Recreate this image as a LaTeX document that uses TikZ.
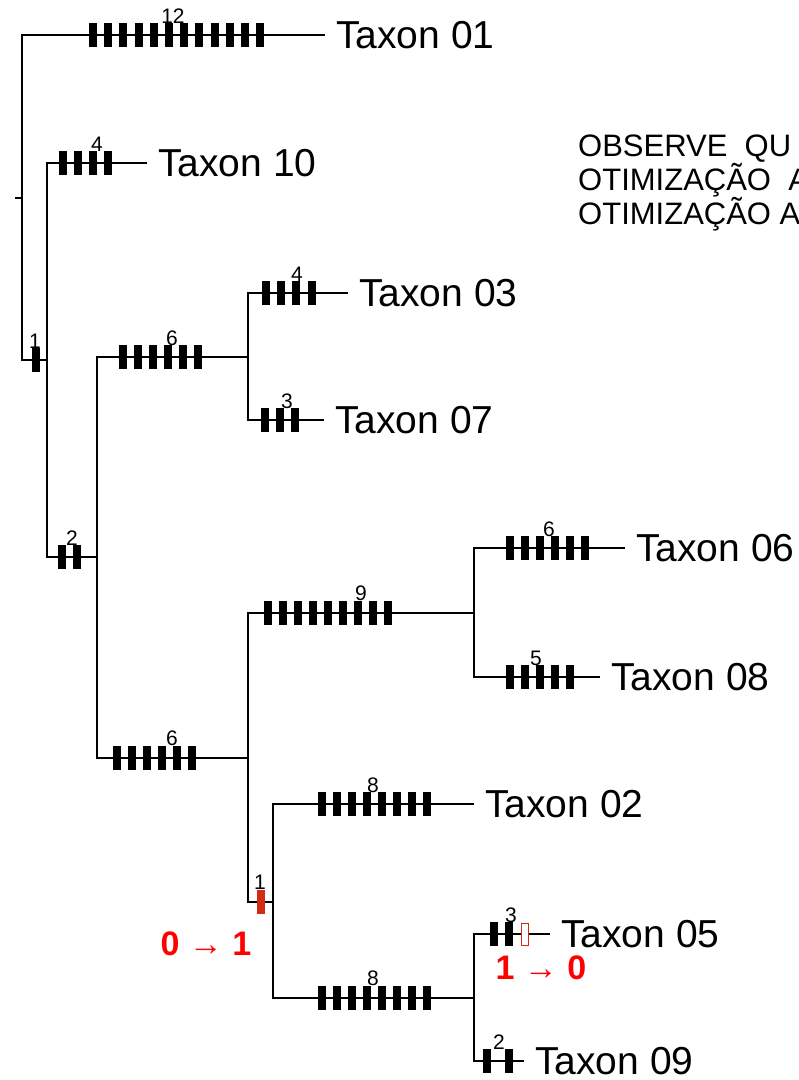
\documentclass[tikz,border=0pt]{standalone}
\usepackage{fontspec}
\setmainfont{Liberation Sans}
\definecolor{markred}{RGB}{210,45,20}
\definecolor{txtred}{RGB}{255,0,0}
\begin{document}
\begin{tikzpicture}[x=1pt,y=-1pt,
  branch/.style={line width=2pt},
  charbar/.style={rectangle, fill=black, minimum width=8pt, minimum height=24pt, inner sep=0pt},
  redbar/.style={charbar, fill=markred},
  hollowbar/.style={rectangle, draw=markred, fill=white, line width=0.8pt, minimum width=6.5pt, minimum height=22pt, inner sep=0pt},
  cnt/.style={font=\fontsize{21}{21}\selectfont, anchor=base, inner sep=0pt},
  taxon/.style={font=\fontsize{39}{39}\selectfont, anchor=west, inner xsep=11pt, inner ysep=0pt, text depth=0pt},
  note/.style={font=\fontsize{31}{31}\selectfont, anchor=base west, inner sep=0pt},
  change/.style={font=\bfseries\fontsize{34}{34}\selectfont, text=txtred, inner sep=0pt}
]
\useasboundingbox (0,0) rectangle (799,1080);

% internal nodes
\coordinate (r)  at (15,197.5);
\coordinate (n1) at (22,197.5);
\coordinate (n2) at (47,360);
\coordinate (n3) at (97,557);
\coordinate (n4) at (248,356.5);
\coordinate (n5) at (248,757.5);
\coordinate (n6) at (474,612.5);
\coordinate (n7) at (273,901.5);
\coordinate (n8) at (474,997.5);

% leaves
\node[taxon] (t01) at (325,35)   {Taxon 01};
\node[taxon] (t10) at (147,163)  {Taxon 10};
\node[taxon] (t03) at (348,293)  {Taxon 03};
\node[taxon] (t07) at (324,420)  {Taxon 07};
\node[taxon] (t06) at (625,548)  {Taxon 06};
\node[taxon] (t08) at (600,677)  {Taxon 08};
\node[taxon] (t02) at (474,804)  {Taxon 02};
\node[taxon] (t05) at (550,934)  {Taxon 05};
\node[taxon] (t09) at (524,1061) {Taxon 09};

% branches
\draw[branch] (r) -- (n1);
\draw[branch] (n1) |- (t01.west);
\draw[branch] (n1) |- (n2);
\draw[branch] (n2) |- (t10.west);
\draw[branch] (n2) |- (n3);
\draw[branch] (n3) |- (n4);
\draw[branch] (n3) |- (n5);
\draw[branch] (n4) |- (t03.west);
\draw[branch] (n4) |- (t07.west);
\draw[branch] (n5) |- (n6);
\draw[branch] (n5) |- (n7);
\draw[branch] (n6) |- (t06.west);
\draw[branch] (n6) |- (t08.west);
\draw[branch] (n7) |- (t02.west);
\draw[branch] (n7) |- (n8);
\draw[branch] (n8) |- (t05.west);
\draw[branch] (n8) |- (t09.west);

% character marks
\foreach \i in {0,...,11} \node[charbar] (m01-\i) at ({93+15.2*\i},35) {};
\foreach \i in {0,...,3}  \node[charbar] (m10-\i) at ({63+15*\i},163) {};
\node[charbar] (mn2) at (36,360) {};
\foreach \i in {0,1}      \node[charbar] (mn3-\i) at ({62+15*\i},557) {};
\foreach \i in {0,...,5}  \node[charbar] (mn4-\i) at ({123+15*\i},357) {};
\foreach \i in {0,...,3}  \node[charbar] (m03-\i) at ({266+15.2*\i},293) {};
\foreach \i in {0,...,2}  \node[charbar] (m07-\i) at ({265+15*\i},420) {};
\foreach \i in {0,...,5}  \node[charbar] (mn5-\i) at ({117+15*\i},757.5) {};
\foreach \i in {0,...,8}  \node[charbar] (mn6-\i) at ({268+15*\i},612.5) {};
\foreach \i in {0,...,5}  \node[charbar] (m06-\i) at ({510+15*\i},548) {};
\foreach \i in {0,...,4}  \node[charbar] (m08-\i) at ({510+15*\i},677) {};
\node[redbar] (mn7) at (260.5,901.5) {};
\foreach \i in {0,...,7}  \node[charbar] (m02-\i) at ({322+15*\i},804) {};
\foreach \i in {0,...,7}  \node[charbar] (mn8-\i) at ({322+15*\i},997.5) {};
\node[charbar] (m05-0) at (494,934) {};
\node[charbar] (m05-1) at (509,934) {};
\node[hollowbar] (m05-2) at (525,934) {};
\node[charbar] (m09-0) at (487,1061) {};
\node[charbar] (m09-1) at (509,1061) {};

% counts
\node[cnt] (c01) at (173,23)    {12};
\node[cnt] (c10) at (97,151)    {4};
\node[cnt] (cn2) at (35,348)    {1};
\node[cnt] (cn3) at (72,545)    {2};
\node[cnt] (cn4) at (172,345)   {6};
\node[cnt] (c03) at (297,281)   {4};
\node[cnt] (c07) at (287,408)   {3};
\node[cnt] (cn5) at (172,745.5) {6};
\node[cnt] (cn6) at (361,600.5) {9};
\node[cnt] (c06) at (549,536)   {6};
\node[cnt] (c08) at (536,665)   {5};
\node[cnt] (c02) at (373,792)   {8};
\node[cnt] (cn7) at (260,889.5) {1};
\node[cnt] (cn8) at (373,985.5) {8};
\node[cnt] (c05) at (511,922)   {3};
\node[cnt] (c09) at (499,1049)  {2};

% state changes
\node[change] (ch1) at (206,944) {0 → 1};
\node[change] (ch2) at (541,968) {1 → 0};

% note
\node[note] (o1) at (578,156) {OBSERVE\ \ QU};
\node[note] (o2) at (578,190) {OTIMIZAÇÃO\ \ A};
\node[note] (o3) at (578,224) {OTIMIZAÇÃO A};
\end{tikzpicture}
\end{document}
